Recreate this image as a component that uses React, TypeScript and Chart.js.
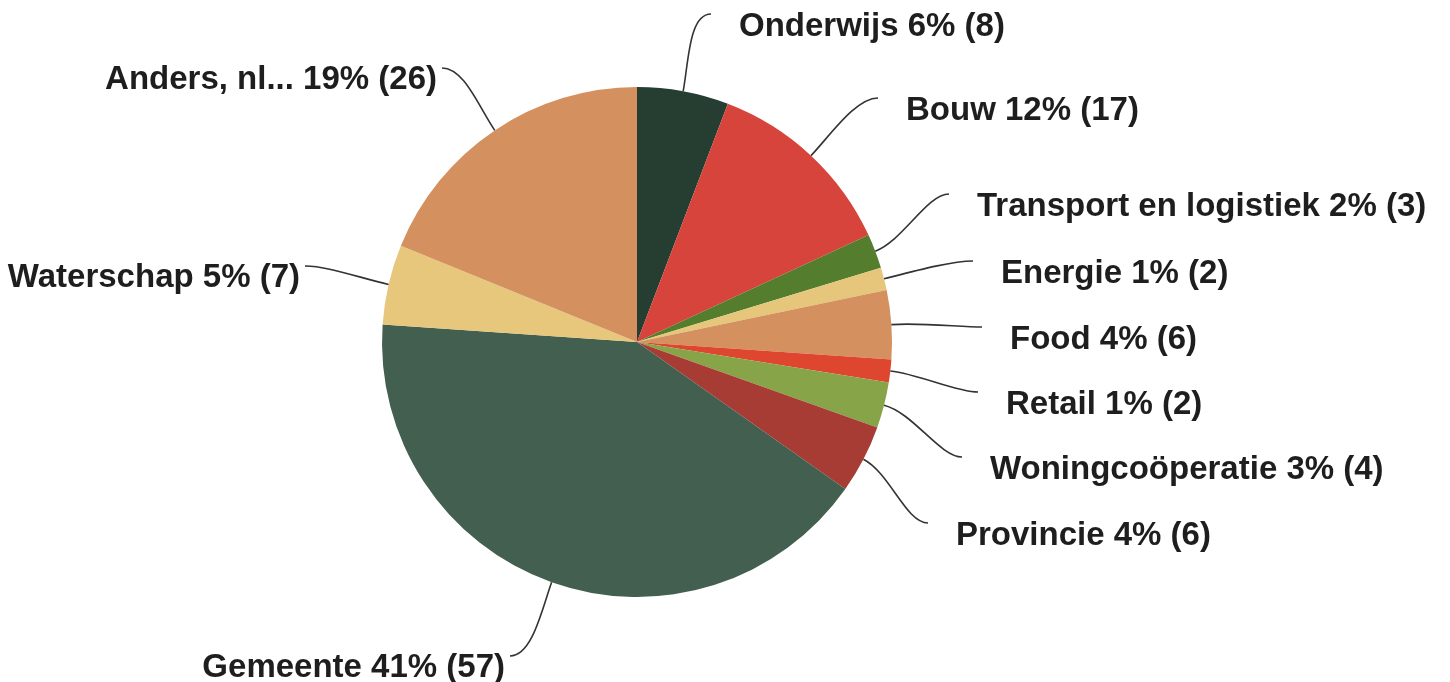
import React, { useEffect, useRef } from "react";
import { Chart, registerables } from "chart.js";

Chart.register(...registerables);

const categories = [
  "Onderwijs",
  "Bouw",
  "Transport en logistiek",
  "Energie",
  "Food",
  "Retail",
  "Woningcoöperatie",
  "Provincie",
  "Gemeente",
  "Waterschap",
  "Anders, nl...",
];
const counts = [8, 17, 3, 2, 6, 2, 4, 6, 57, 7, 26];
const percentLabels = ["6%", "12%", "2%", "1%", "4%", "1%", "3%", "4%", "41%", "5%", "19%"];
const colors = [
  "#263d31",
  "#d6443b",
  "#557d2e",
  "#e6c67a",
  "#d4905e",
  "#de4630",
  "#88a448",
  "#a63c34",
  "#435f4f",
  "#e6c77b",
  "#d4905e",
];
// leader-line end points relative to the pie centre (layout only)
const labelAnchors: [number, number][] = [
  [74, -328],
  [241, -244],
  [312, -148],
  [336, -81],
  [345, -15],
  [341, 50],
  [325, 115],
  [291, 181],
  [-127, 314],
  [-332, -76],
  [-195, -274],
];

const FONT = "bold 33px 'Liberation Sans', Arial, sans-serif";

const labelPlugin = {
  id: "leaderLabels",
  afterDatasetsDraw(chart: any) {
    const ctx = chart.ctx as CanvasRenderingContext2D;
    const meta = chart.getDatasetMeta(0);
    ctx.save();
    meta.data.forEach((arc: any, i: number) => {
      const { x, y, startAngle, endAngle, outerRadius } = arc.getProps(
        ["x", "y", "startAngle", "endAngle", "outerRadius"],
        true
      );
      const mid = (startAngle + endAngle) / 2;
      const sx = x + Math.cos(mid) * outerRadius;
      const sy = y + Math.sin(mid) * outerRadius;
      const ex = x + labelAnchors[i][0];
      const ey = y + labelAnchors[i][1];
      const side = ex >= x ? 1 : -1;
      const c1x = sx + Math.cos(mid) * 30;
      const c1y = sy + Math.sin(mid) * 30;
      const c2x = ex - side * 22;
      const c2y = ey;
      ctx.beginPath();
      ctx.moveTo(sx, sy);
      ctx.bezierCurveTo(c1x, c1y, c2x, c2y, ex, ey);
      ctx.strokeStyle = "#333333";
      ctx.lineWidth = 1.6;
      ctx.stroke();

      const text = `${categories[i]} ${percentLabels[i]} (${counts[i]})`;
      ctx.font = FONT;
      ctx.fillStyle = "#1e1e1e";
      ctx.textBaseline = "alphabetic";
      if (side > 0) {
        ctx.textAlign = "left";
        ctx.fillText(text, ex + 28, ey + 22);
      } else {
        ctx.textAlign = "right";
        ctx.fillText(text, ex - 5, ey + 21);
      }
    });
    ctx.restore();
  },
};

export default function App() {
  const ref = useRef<HTMLCanvasElement | null>(null);
  useEffect(() => {
    if (!ref.current) return;
    const chart = new Chart(ref.current, {
      type: "pie",
      data: {
        labels: categories,
        datasets: [
          {
            data: counts,
            backgroundColor: colors,
            borderWidth: 0,
          },
        ],
      },
      options: {
        animation: false,
        responsive: false,
        layout: { padding: { left: 382, right: 558, top: 87, bottom: 85 } },
        plugins: {
          legend: { display: false },
          tooltip: { enabled: false },
        },
      },
      plugins: [labelPlugin],
    });
    return () => chart.destroy();
  }, []);
  return (
    <div style={{ position: "absolute", left: 0, top: 0, width: 1450, height: 682, background: "#fff" }}>
      <canvas ref={ref} width={1450} height={682} style={{ display: "block" }} />
    </div>
  );
}
